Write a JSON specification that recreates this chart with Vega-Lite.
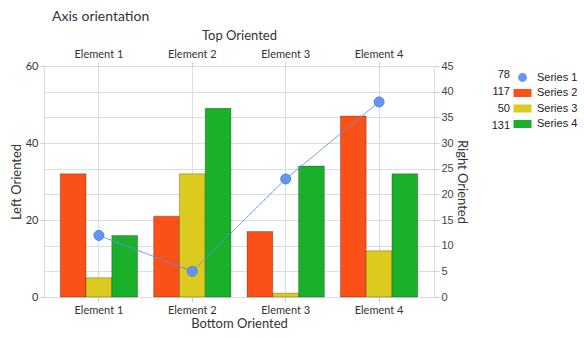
{
  "$schema": "https://vega.github.io/schema/vega-lite/v6.json",
  "width": 390,
  "height": 231,
  "autosize": {"type": "none"},
  "padding": {"left": 44, "top": 66, "right": 150, "bottom": 41},
  "background": "white",
  "title": {"text": "Axis orientation", "anchor": "start", "frame": "group", "dx": 8, "offset": 5, "font": "Lato", "fontSize": 14, "fontWeight": "normal", "color": "#333333"},
  "data": {
    "values": [
      {"element": "Element 1", "series": "Series 1", "value": 12},
      {"element": "Element 1", "series": "Series 2", "value": 32},
      {"element": "Element 1", "series": "Series 3", "value": 5},
      {"element": "Element 1", "series": "Series 4", "value": 16},
      {"element": "Element 2", "series": "Series 1", "value": 5},
      {"element": "Element 2", "series": "Series 2", "value": 21},
      {"element": "Element 2", "series": "Series 3", "value": 32},
      {"element": "Element 2", "series": "Series 4", "value": 49},
      {"element": "Element 3", "series": "Series 1", "value": 23},
      {"element": "Element 3", "series": "Series 2", "value": 17},
      {"element": "Element 3", "series": "Series 3", "value": 1},
      {"element": "Element 3", "series": "Series 4", "value": 34},
      {"element": "Element 4", "series": "Series 1", "value": 38},
      {"element": "Element 4", "series": "Series 2", "value": 47},
      {"element": "Element 4", "series": "Series 3", "value": 12},
      {"element": "Element 4", "series": "Series 4", "value": 32}
    ]
  },
  "config": {
    "view": {"stroke": "#dddddd"},
    "axis": {
      "labelFont": "Lato", "labelFontSize": 11, "labelColor": "#333333",
      "titleFont": "Lato", "titleFontSize": 13, "titleFontWeight": "normal", "titleColor": "#333333",
      "domain": false, "tickColor": "#cccccc", "gridColor": "#dddddd", "tickSize": 4
    }
  },
  "layer": [
    {
      "transform": [{"filter": "datum.series !== 'Series 1'"}],
      "mark": {"type": "bar", "strokeWidth": 1, "stroke": "rgba(0,0,0,0.25)"},
      "encoding": {
        "x": {
          "field": "element", "type": "nominal",
          "scale": {"paddingInner": 0.172, "paddingOuter": 0.174},
          "axis": {"orient": "bottom", "title": "Bottom Oriented", "labelAngle": 0, "grid": false, "tickSize": 5, "labelPadding": 2, "titlePadding": 2}
        },
        "xOffset": {"field": "series", "type": "nominal", "scale": {"paddingInner": 0, "paddingOuter": 0}},
        "y": {
          "field": "value", "type": "quantitative",
          "scale": {"domain": [0, 60], "nice": false},
          "axis": {"orient": "left", "title": "Left Oriented", "values": [0, 20, 40, 60], "grid": false, "labelPadding": 2, "titlePadding": 2}
        },
        "color": {
          "field": "series", "type": "nominal",
          "scale": {"domain": ["Series 1", "Series 2", "Series 3", "Series 4"], "range": ["#6495f2", "#fb5119", "#dccb1e", "#1bb02a"]},
          "legend": {
            "orient": "none", "legendX": 470, "legendY": 3, "title": null,
            "labelFont": "Liberation Sans", "labelFontSize": 11, "labelColor": "#222222",
            "symbolSize": 256, "symbolStrokeWidth": 1, "symbolStrokeColor": "rgba(0,0,0,0.3)", "symbolOpacity": 1,
            "labelOffset": 6, "rowPadding": 0.5
          }
        }
      }
    },
    {
      "transform": [{"filter": "datum.series === 'Series 1'"}],
      "encoding": {
        "x": {
          "field": "element", "type": "nominal",
          "axis": {"orient": "top", "title": "Top Oriented", "labelAngle": 0, "grid": true, "tickSize": 4, "labelPadding": 3, "titlePadding": 6}
        },
        "y": {
          "field": "value", "type": "quantitative",
          "scale": {"domain": [0, 45], "nice": false},
          "axis": {"orient": "right", "title": "Right Oriented", "values": [0, 5, 10, 15, 20, 25, 30, 35, 40, 45], "grid": true, "tickSize": 5, "labelPadding": 2, "titlePadding": 1, "labelFont": "Liberation Sans", "labelColor": "#444444"}
        }
      },
      "layer": [
        {
          "mark": {"type": "line", "strokeWidth": 1, "color": "#5b8ef0"},
          "encoding": {
            "strokeDash": {
              "field": "series", "type": "nominal",
              "scale": {"domain": {"unionWith": ["Series 1", "Series 2", "Series 3", "Series 4"]}, "range": [[1, 0], [1, 0], [1, 0], [1, 0]]},
              "legend": {
                "orient": "right", "offset": 28, "padding": 3, "title": null,
                "labelFont": "Liberation Sans", "labelFontSize": 11, "labelColor": "#222222",
                "labelAlign": "right", "labelOffset": 0,
                "symbolSize": 0, "symbolStrokeWidth": 0, "symbolStrokeColor": "transparent", "rowPadding": 5,
                "labelExpr": "({'Series 1': '78', 'Series 2': '117', 'Series 3': '50', 'Series 4': '131'})[datum.label]"
              }
            }
          }
        },
        {
          "mark": {"type": "point", "filled": true, "size": 330, "strokeWidth": 1, "stroke": "#4f83e6", "fill": "#6495f2", "opacity": 1},
          "encoding": {
            "shape": {
              "field": "series", "type": "nominal",
              "scale": {"domain": ["Series 1", "Series 2", "Series 3", "Series 4"], "range": ["M-0.55,0A0.55,0.55,0,1,1,0.55,0A0.55,0.55,0,1,1,-0.55,0Z", "M-1.125,-0.5H1.125V0.5H-1.125Z", "M-1.125,-0.5H1.125V0.5H-1.125Z", "M-1.125,-0.5H1.125V0.5H-1.125Z"]},
              "legend": {
                "orient": "none", "legendX": 470, "legendY": 3, "title": null,
                "labelFont": "Liberation Sans", "labelFontSize": 11, "labelColor": "#222222",
                "symbolSize": 256, "symbolStrokeWidth": 1, "symbolStrokeColor": "rgba(0,0,0,0.3)", "symbolOpacity": 1,
                "labelOffset": 6, "rowPadding": 0.5
              }
            }
          }
        }
      ]
    }
  ],
  "resolve": {"scale": {"y": "independent"}, "axis": {"x": "independent"}}
}
